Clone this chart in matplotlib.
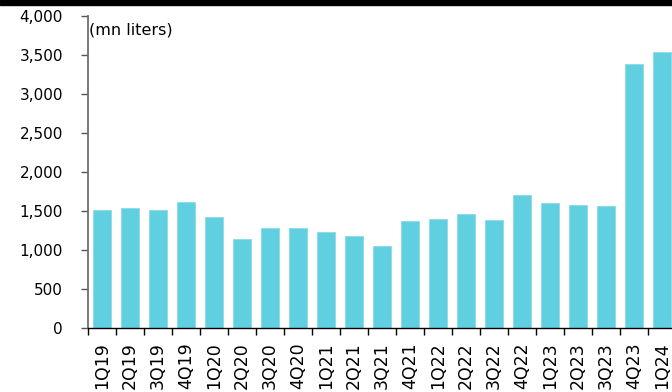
import matplotlib.pyplot as plt
from matplotlib.patches import Rectangle
import numpy as np

# quarterly volumes, mn liters
quarters = ['1Q19', '2Q19', '3Q19', '4Q19', '1Q20', '2Q20', '3Q20', '4Q20',
            '1Q21', '2Q21', '3Q21', '4Q21', '1Q22', '2Q22', '3Q22', '4Q22',
            '1Q23', '2Q23', '3Q23', '4Q23', '1Q24']
volumes = [1517, 1538, 1517, 1623, 1423, 1141, 1282, 1282,
           1235, 1179, 1051, 1376, 1401, 1465, 1385, 1709,
           1610, 1577, 1570, 3385, 3538]
y_ticks = [0, 500, 1000, 1500, 2000, 2500, 3000, 3500, 4000]

plt.rcParams['font.family'] = ['DejaVu Sans']

fig = plt.figure(figsize=(6.72, 3.92), dpi=100)
ax = fig.add_axes([88 / 672, 63.7 / 392, 1 - 88 / 672, 312 / 392])

x = np.arange(len(quarters))
ax.bar(x, volumes, width=0.67, color='#60d0e0', edgecolor='#8adbe7', linewidth=0.6)

ax.set_xlim(-0.5, 20.36)
ax.set_ylim(0, 4000)

# ticks sit between the bars, labels under the bars
ax.set_xticks(np.arange(-0.5, 20.5, 1))
ax.set_xticks(x, minor=True)
ax.set_xticklabels([])
ax.set_xticklabels(quarters, minor=True, rotation=90, fontsize=12.5)
ax.tick_params(axis='x', which='major', length=5, width=1, color='black', direction='out')
ax.tick_params(axis='x', which='minor', length=0, pad=10)

ax.set_yticks(y_ticks)
ax.set_yticklabels([f'{v:,}' for v in y_ticks], fontsize=11)
ax.tick_params(axis='y', length=5, width=1, color='#555555', pad=13)

for side in ['top', 'right']:
    ax.spines[side].set_visible(False)
ax.spines['left'].set_color('#6e6e6e')
ax.spines['left'].set_linewidth(1.3)
ax.spines['bottom'].set_color('black')
ax.spines['bottom'].set_linewidth(1)

ax.text(-0.45, 3830, '(mn liters)', fontsize=11.5, va='center', ha='left')

# black band across the top
fig.patches.append(Rectangle((0, 1 - 5 / 392), 1, 5 / 392, transform=fig.transFigure,
                             color='black', zorder=10))

fig.savefig('out.png', dpi=100)
